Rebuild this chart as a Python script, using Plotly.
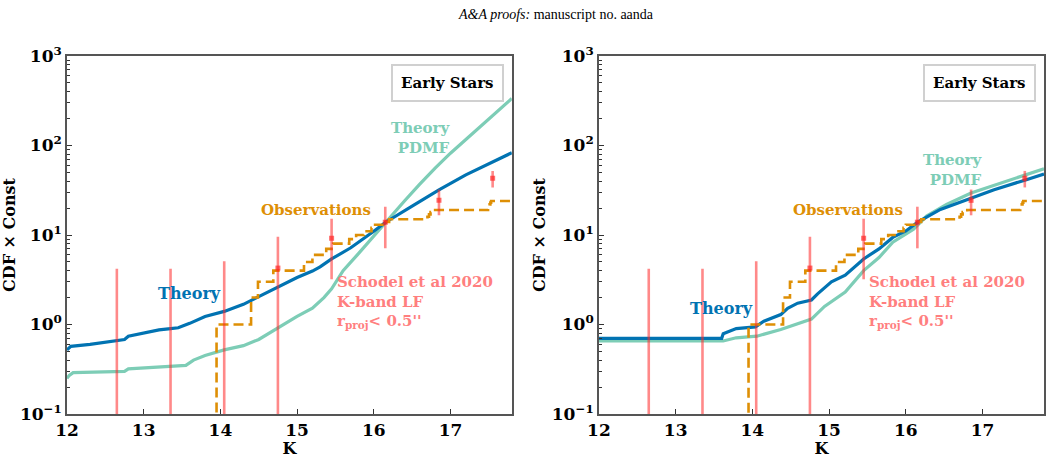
import plotly.graph_objects as go
from plotly.subplots import make_subplots

# ---------------- data ----------------
# Left panel theory curves
L_theory_K = [12.0, 12.05, 12.3, 12.5, 12.65, 12.75, 12.8, 13.0, 13.2, 13.35, 13.45, 13.6, 13.8, 14.05, 14.3, 14.5,
              14.75, 15.0, 15.2, 15.3, 15.45, 15.7, 16.0, 16.15, 16.5, 16.85, 17.2, 17.5, 17.8]
L_theory_V = [0.52, 0.57, 0.60, 0.63, 0.65, 0.68, 0.74, 0.80, 0.87, 0.90, 0.92, 1.03, 1.23, 1.40, 1.68, 2.05,
              2.64, 3.35, 3.95, 4.40, 5.40, 7.2, 11.0, 13.8, 21.0, 32.0, 47.0, 63.0, 83.0]
L_pdmf_K = [12.0, 12.03, 12.08, 12.3, 12.75, 12.8, 13.35, 13.55, 13.65, 13.8, 14.05, 14.3, 14.5, 14.75, 15.0, 15.2,
            15.35, 15.45, 15.6, 15.8, 16.0, 16.15, 16.4, 16.6, 16.8, 17.0, 17.2, 17.4, 17.6, 17.8]
L_pdmf_V = [0.25, 0.27, 0.29, 0.295, 0.30, 0.32, 0.34, 0.35, 0.40, 0.45, 0.52, 0.58, 0.68, 0.92, 1.23, 1.52,
            2.0, 2.5, 4.0, 6.2, 9.8, 13.8, 24.0, 37.0, 56.0, 82.0, 116.0, 163.0, 232.0, 335.0]

# Right panel theory curves
R_theory_K = [12.0, 13.60, 13.62, 13.70, 13.79, 14.04, 14.15, 14.37, 14.46, 14.59, 14.77, 14.85, 15.03, 15.21,
              15.38, 15.45, 15.65, 15.83, 16.0, 16.16, 16.45, 16.85, 17.15, 17.55, 17.8]
R_theory_V = [0.70, 0.70, 0.79, 0.84, 0.90, 0.94, 1.09, 1.29, 1.52, 1.73, 1.88, 2.2, 3.0, 3.55,
              4.76, 5.4, 7.0, 9.4, 11.1, 14.0, 19.3, 26.0, 32.0, 41.0, 48.0]
R_pdmf_K = [12.0, 13.62, 13.79, 14.06, 14.37, 14.77, 14.94, 15.21, 15.45, 15.65, 15.83, 16.1, 16.27, 16.53,
            16.85, 17.24, 17.8]
R_pdmf_V = [0.655, 0.655, 0.71, 0.74, 0.88, 1.15, 1.59, 2.3, 4.0, 5.6, 8.3, 11.6, 16.3, 21.9,
            29.5, 38.0, 55.0]

# Observations (cumulative counts, step function)
obs_K = [12.0, 13.95, 14.40, 14.49, 14.69, 15.09, 15.20, 15.38, 15.47, 15.68, 15.77, 15.87, 15.97, 16.00,
         16.16, 16.20, 16.70, 16.72, 16.74, 16.80, 17.49, 17.50, 17.51, 17.52, 17.53, 17.8]
obs_N = [0.001, 1, 2, 3, 4, 5, 6, 7, 8, 9, 10, 11, 12, 13,
         14, 15, 16, 17, 18, 19, 20, 21, 22, 23, 24, 24]

# Schodel et al 2020 K-band LF
sch_K = [12.65, 13.35, 14.05, 14.75, 15.45, 16.15, 16.85, 17.55]
sch_V = [0.001, 0.001, 0.001, 4.27, 9.2, 13.9, 24.4, 43.0]
sch_E = [4.2, 4.2, 5.1, 5.3, 6.0, 6.8, 7.8, 9.0]

ytick_vals = [0.1, 1, 10, 100, 1000]
ytick_text = ["10<sup>\u22121</sup>", "10<sup>0</sup>", "10<sup>1</sup>", "10<sup>2</sup>", "10<sup>3</sup>"]
yminor_vals = [m * d for d in [0.1, 1, 10, 100] for m in range(2, 10)]
xtick_vals = [12, 13, 14, 15, 16, 17]

BLUE = "#0173B2"
TEAL = "rgb(125,205,182)"
ORANGE = "#DE8F05"
RED_BAR = "rgba(255,40,40,0.55)"
SALMON = "#FF7F7F"
FONT = "DejaVu Serif"

fig = make_subplots(rows=1, cols=2)

panels = [
    (1, L_theory_K, L_theory_V, L_pdmf_K, L_pdmf_V),
    (2, R_theory_K, R_theory_V, R_pdmf_K, R_pdmf_V),
]
for col, tk, tv, pk, pv in panels:
    fig.add_trace(go.Scatter(x=pk, y=pv, mode="lines", line=dict(color=TEAL, width=3.2),
                             showlegend=False, hoverinfo="skip"), row=1, col=col)
    fig.add_trace(go.Scatter(x=tk, y=tv, mode="lines", line=dict(color=BLUE, width=3.2),
                             showlegend=False, hoverinfo="skip"), row=1, col=col)
    fig.add_trace(go.Scatter(x=obs_K, y=obs_N, mode="lines", line=dict(color=ORANGE, width=2.6, dash="10px,5px", shape="hv"),
                             showlegend=False, hoverinfo="skip"), row=1, col=col)
    fig.add_trace(go.Scatter(x=sch_K, y=sch_V, mode="markers",
                             marker=dict(symbol="square", size=5, color="rgba(255,30,30,0.65)"),
                             error_y=dict(type="data", array=sch_E, visible=True, color=RED_BAR,
                                          thickness=2.6, width=0),
                             showlegend=False, hoverinfo="skip"), row=1, col=col)

axis_common = dict(showline=True, linecolor="#555555", linewidth=1.6, mirror=True,
                   ticks="inside", tickcolor="#333333", ticklen=5, tickwidth=1,
                   showgrid=False, zeroline=False,
                   tickfont=dict(family=FONT, size=17, color="black", weight="bold"))
ytitle = dict(text="CDF \u00d7 Const", font=dict(family=FONT, size=16, color="black", weight="bold"), standoff=2)
xtitle = dict(text="K", font=dict(family=FONT, size=16, color="black", weight="bold"), standoff=0)
yminor = dict(tickmode="array", tickvals=yminor_vals, ticks="inside", ticklen=3, tickwidth=1,
              tickcolor="#333333", showgrid=False)

fig.update_layout(
    width=1053, height=458,
    margin=dict(l=67, r=7, t=56, b=39),
    plot_bgcolor="white", paper_bgcolor="white",
    xaxis=dict(domain=[0, 0.4553], range=[12, 17.8], tickvals=xtick_vals, title=xtitle, **axis_common),
    xaxis2=dict(domain=[0.5444, 1.0], range=[12, 17.8], tickvals=xtick_vals, title=xtitle, **axis_common),
    yaxis=dict(type="log", range=[-1, 3], tickvals=ytick_vals, ticktext=ytick_text, minor=yminor,
               title=ytitle, **axis_common),
    yaxis2=dict(type="log", range=[-1, 3], tickvals=ytick_vals, ticktext=ytick_text, minor=yminor,
                title=ytitle, **axis_common),
)

def tf(color, size=15):
    return dict(family=FONT, size=size, color=color, weight="bold")

anns = []
for xr, yr, th_y, pd_y in [("x", "y domain", 0.336, 0.771), ("x2", "y2 domain", 0.295, 0.682)]:
    anns.append(dict(x=13.6, y=th_y, xref=xr, yref=yr, text="Theory", showarrow=False,
                     font=tf(BLUE, 16), xanchor="center", yanchor="middle"))
    anns.append(dict(x=17.03, y=pd_y, xref=xr, yref=yr, text="Theory<br>PDMF", showarrow=False,
                     font=tf(TEAL, 15), xanchor="right", yanchor="middle", align="right"))
    anns.append(dict(x=15.25, y=0.571, xref=xr, yref=yr, text="Observations", showarrow=False,
                     font=tf(ORANGE, 15), xanchor="center", yanchor="middle"))
    anns.append(dict(x=15.5, y=0.313, xref=xr, yref=yr,
                     text="Schodel et al 2020<br>K-band LF<br>r<sub>proj</sub>< 0.5''", showarrow=False,
                     font=tf(SALMON, 15), xanchor="left", yanchor="middle", align="left"))
    anns.append(dict(x=0.983, y=0.978, xref=xr + " domain", yref=yr, text="Early Stars",
                     showarrow=False, font=tf("black", 15), xanchor="right", yanchor="top",
                     bgcolor="white", bordercolor="#d0d0d0", borderwidth=2, borderpad=8))

anns.append(dict(x=0.5, y=1 + (56 - 14) / (458 - 56 - 39), xref="paper", yref="paper", yanchor="middle",
                 text="<i>A&A proofs:</i> manuscript no. aanda", showarrow=False,
                 font=dict(family="Liberation Serif", size=14, color="black")))
fig.update_layout(annotations=anns)

fig.write_html("out.html")
